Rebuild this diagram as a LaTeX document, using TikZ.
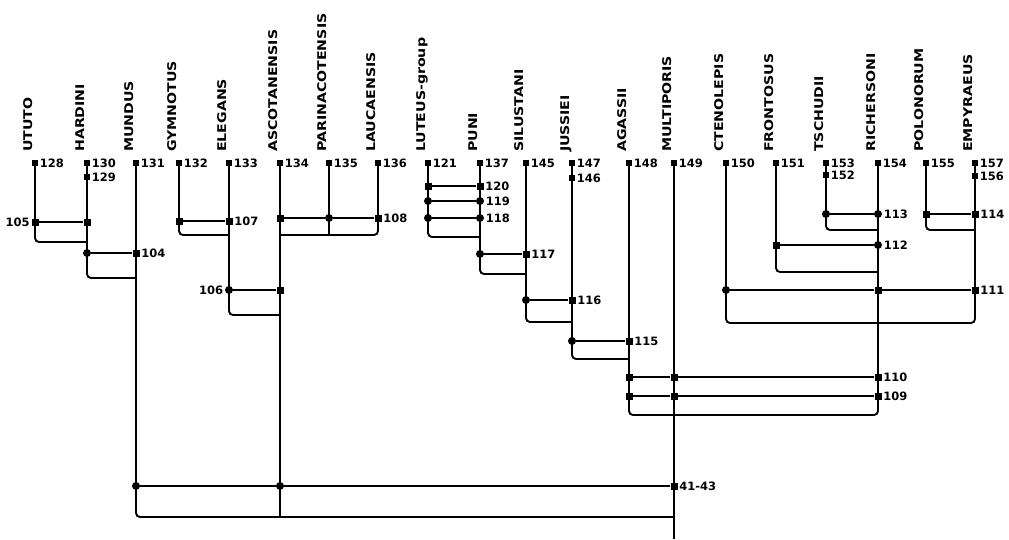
\documentclass[tikz,border=0pt]{standalone}
\usepackage{fontspec}
\usepackage{graphicx}
\newfontfamily\dvfont{DejaVu Sans}
\newcommand{\taxa}[1]{\scalebox{1.18}[1]{#1}}
\tikzset{
  line/.style={line width=1.9pt},
  thinline/.style={line width=1.2pt},
  rc/.style={rounded corners=4pt},
  sq/.style={rectangle, fill=black, inner sep=0pt, minimum size=7pt},
  lsq/.style={rectangle, fill=black, inner sep=0pt, minimum size=6pt},
  dt/.style={circle, fill=black, inner sep=0pt, minimum size=8pt},
  num/.style={font=\dvfont\bfseries\fontsize{11.5}{12}\selectfont, inner sep=0pt},
  tax/.style={rotate=90, anchor=base west, inner sep=0pt, font=\dvfont\bfseries\fontsize{12}{13}\selectfont},
  label distance=1.5pt
}
\begin{document}
\begin{tikzpicture}[x=1pt,y=-1pt]
\useasboundingbox (0,0) rectangle (1009,539);
% leaves
\foreach \x/\t/\n in {35/UTUTO/128, 87/HARDINI/130, 136/MUNDUS/131, 179/GYMNOTUS/132,
  229/ELEGANS/133, 280/ASCOTANENSIS/134, 329/PARINACOTENSIS/135, 378/LAUCAENSIS/136,
  428/LUTEUS-group/121, 480/PUNI/137, 526/SILUSTANI/145, 572/JUSSIEI/147,
  629/AGASSII/148, 674/MULTIPORIS/149, 726/CTENOLEPIS/150, 776/FRONTOSUS/151,
  826/TSCHUDII/153, 878/RICHERSONI/154, 926/POLONORUM/155, 975/EMPYRAEUS/157}{
  \node[lsq, label={[num]right:\n}] (m\n) at (\x,163) {};
  \node[tax] (t\n) at (\x-3,152) {\taxa{\t}};
}
% connecting lines (drawn first)
\coordinate (k105) at (87,242);
\coordinate (k104) at (136,278);
\coordinate (k4143) at (674,517);
\coordinate (a134end) at (280,517);
\coordinate (k108) at (280,235);
\coordinate (p135end) at (329,235);
\coordinate (k107) at (229,235);
\coordinate (k106) at (280,315);
\coordinate (k118) at (480,237);
\coordinate (k117) at (526,274);
\coordinate (k116) at (572,322);
\coordinate (k115) at (629,359);
\coordinate (k110) at (878,415);
\coordinate (mpend) at (674,539);
\coordinate (k113) at (878,230);
\coordinate (k112) at (878,272);
\coordinate (k114) at (975,230);
\coordinate (k111) at (975,323);

\draw[line,rc] (m128) |- (k105);
\draw[line,rc] (m130) |- (k104);
\draw[line,rc] (m131) |- (k4143);
\draw[line] (m134) -- (a134end);
\draw[line] (m135) -- (p135end);
\draw[line,rc] (m136) |- (k108);
\draw[line,rc] (m132) |- (k107);
\draw[line,rc] (m133) |- (k106);
\draw[line,rc] (m121) |- (k118);
\draw[line,rc] (m137) |- (k117);
\draw[line,rc] (m145) |- (k116);
\draw[line,rc] (m147) |- (k115);
\draw[line,rc] (m148) |- (k110) -- (m154);
\draw[thinline] (m149) -- (mpend);
\draw[line,rc] (m153) |- (k113);
\draw[line,rc] (m151) |- (k112);
\draw[line,rc] (m155) |- (k114);
\draw[line,rc] (m150) |- (k111) -- (m157);

% second leaf markers
\node[lsq, label={[num]right:129}] (m129) at (87,177) {};
\node[lsq, label={[num]right:146}] (m146) at (572,178) {};
\node[lsq, label={[num]right:152}] (m152) at (826,175) {};
\node[lsq, label={[num]right:156}] (m156) at (975,176) {};

% internal nodes
\node[sq, label={[num]left:105}] (n105a) at (35,222) {};
\node[sq] (n105b) at (87,222) {};
\draw[line] (n105a) -- (n105b);

\node[dt] (n104a) at (87,253) {};
\node[sq, label={[num]right:104}] (n104b) at (136,253) {};
\draw[line] (n104a) -- (n104b);

\node[sq] (n107a) at (179,221) {};
\node[sq, label={[num]right:107}] (n107b) at (229,221) {};
\draw[line] (n107a) -- (n107b);

\node[dt, label={[num]left:106}] (n106a) at (229,290) {};
\node[sq] (n106b) at (280,290) {};
\draw[line] (n106a) -- (n106b);

\node[sq] (n108a) at (280,218) {};
\node[dt] (n108b) at (329,218) {};
\node[sq, label={[num]right:108}] (n108c) at (378,218) {};
\draw[line] (n108a) -- (n108b) -- (n108c);

\node[sq] (n120a) at (428,186) {};
\node[sq, label={[num]right:120}] (n120b) at (480,186) {};
\draw[line] (n120a) -- (n120b);
\node[dt] (n119a) at (428,201) {};
\node[dt, label={[num]right:119}] (n119b) at (480,201) {};
\draw[line] (n119a) -- (n119b);
\node[dt] (n118a) at (428,218) {};
\node[dt, label={[num]right:118}] (n118b) at (480,218) {};
\draw[line] (n118a) -- (n118b);

\node[dt] (n117a) at (480,254) {};
\node[sq, label={[num]right:117}] (n117b) at (526,254) {};
\draw[line] (n117a) -- (n117b);

\node[dt] (n116a) at (526,300) {};
\node[sq, label={[num]right:116}] (n116b) at (572,300) {};
\draw[line] (n116a) -- (n116b);

\node[dt] (n115a) at (572,341) {};
\node[sq, label={[num]right:115}] (n115b) at (629,341) {};
\draw[line] (n115a) -- (n115b);

\node[sq] (n110a) at (629,377) {};
\node[sq] (n110b) at (674,377) {};
\node[sq, label={[num]right:110}] (n110c) at (878,377) {};
\draw[line] (n110a) -- (n110b) -- (n110c);
\node[sq] (n109a) at (629,396) {};
\node[sq] (n109b) at (674,396) {};
\node[sq, label={[num]right:109}] (n109c) at (878,396) {};
\draw[line] (n109a) -- (n109b) -- (n109c);

\node[dt] (n113a) at (826,214) {};
\node[dt, label={[num]right:113}] (n113b) at (878,214) {};
\draw[line] (n113a) -- (n113b);

\node[sq] (n112a) at (776,245) {};
\node[dt, label={[num]right:112}] (n112b) at (878,245) {};
\draw[line] (n112a) -- (n112b);

\node[sq] (n114a) at (926,214) {};
\node[sq, label={[num]right:114}] (n114b) at (975,214) {};
\draw[line] (n114a) -- (n114b);

\node[dt] (n111a) at (726,290) {};
\node[sq] (n111b) at (878,290) {};
\node[sq, label={[num]right:111}] (n111c) at (975,290) {};
\draw[line] (n111a) -- (n111b) -- (n111c);

\node[dt] (n43a) at (136,486) {};
\node[dt] (n43b) at (280,486) {};
\node[sq, label={[num]right:41-43}] (n43c) at (674,486) {};
\draw[thinline] (n43a) -- (n43b) -- (n43c);
\end{tikzpicture}
\end{document}
